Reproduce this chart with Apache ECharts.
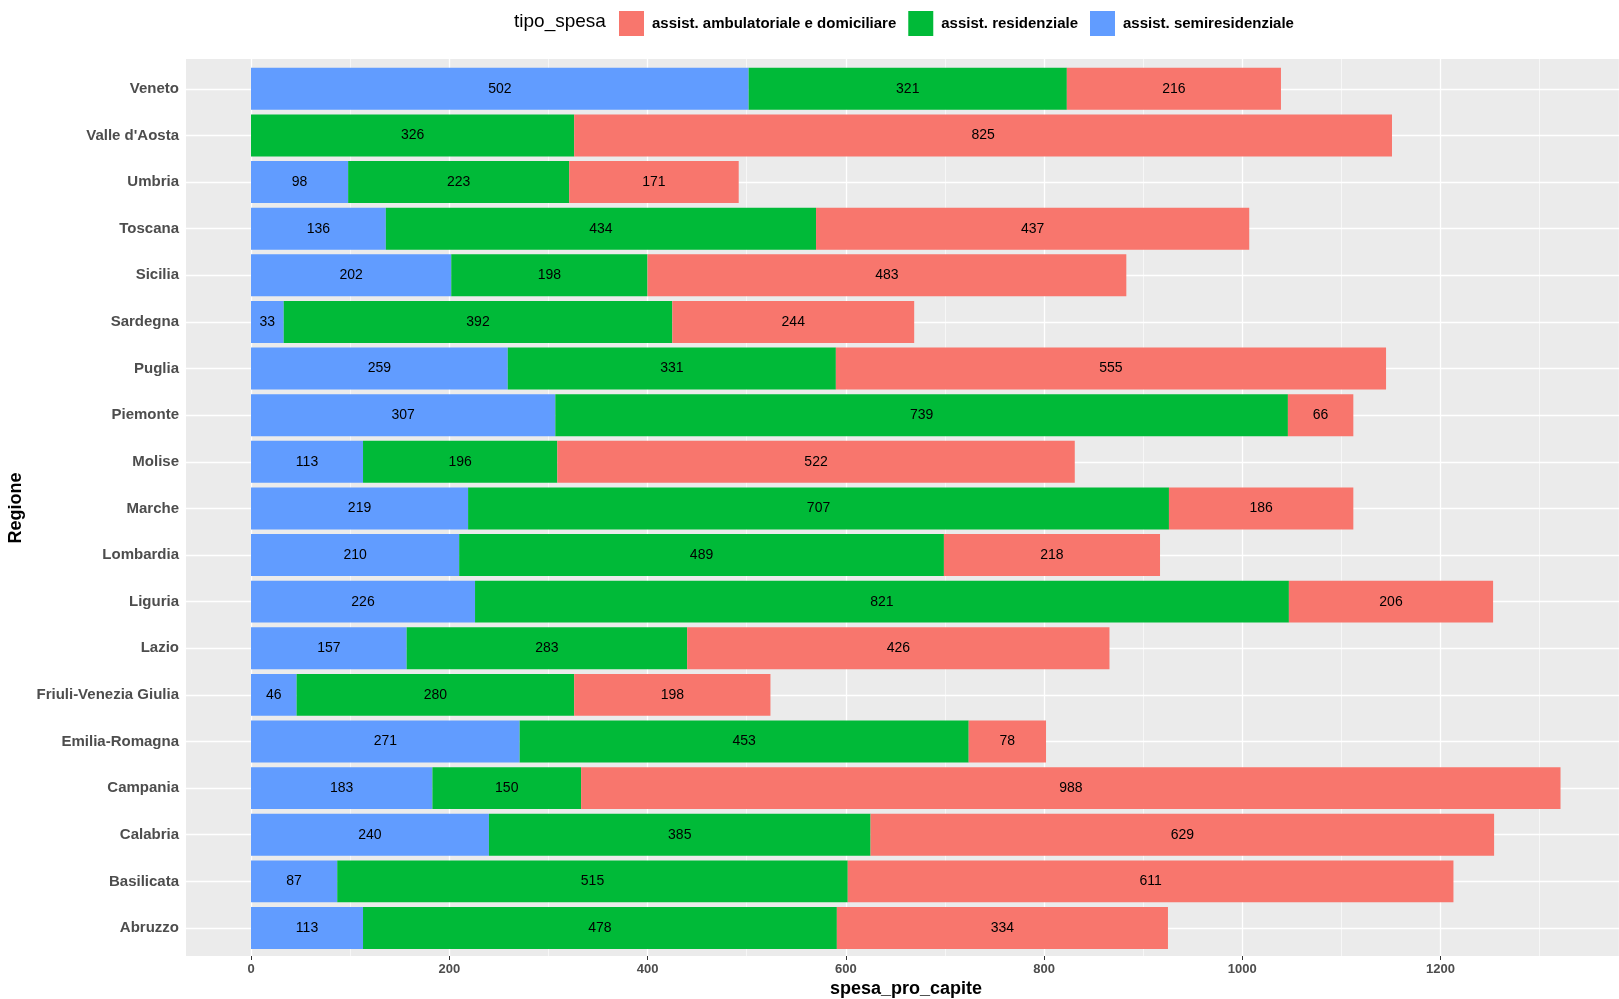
<!DOCTYPE html>
<html><head><meta charset="utf-8">
<script src="https://cdn.jsdelivr.net/npm/echarts@6/dist/echarts.min.js"></script>
<style>html,body{margin:0;padding:0;background:#fff}#c{width:1619px;height:999px}</style>
</head><body><div id="c"></div>
<script>
// ---- data ----
const regioni = ['Veneto', "Valle d'Aosta", 'Umbria', 'Toscana', 'Sicilia', 'Sardegna', 'Puglia', 'Piemonte', 'Molise', 'Marche', 'Lombardia', 'Liguria', 'Lazio', 'Friuli-Venezia Giulia', 'Emilia-Romagna', 'Campania', 'Calabria', 'Basilicata', 'Abruzzo'];
const semiresidenziale = [502, null, 98, 136, 202, 33, 259, 307, 113, 219, 210, 226, 157, 46, 271, 183, 240, 87, 113];
const residenziale = [321, 326, 223, 434, 198, 392, 331, 739, 196, 707, 489, 821, 283, 280, 453, 150, 385, 515, 478];
const ambulatoriale = [216, 825, 171, 437, 483, 244, 555, 66, 522, 186, 218, 206, 426, 198, 78, 988, 629, 611, 334];
const seriesNames = ['assist. ambulatoriale e domiciliare', 'assist. residenziale', 'assist. semiresidenziale'];
const legendTitle = 'tipo_spesa';
const xTitle = 'spesa_pro_capite';
const yTitle = 'Regione';

// ---- style ----
const FONT = "'Liberation Sans', Arial, sans-serif";
const RED = '#F8766D', GREEN = '#00BA38', BLUE = '#619CFF';
const X0 = 251;                  // pixel of value 0
const PANEL_L = 186, PANEL_T = 59, PANEL_B = 956;
const XMAX = 1380;               // value at right edge of the canvas
const PX = (1619 - X0) / XMAX;   // pixels per unit
const xMinBars = -(X0 - PANEL_L) / PX;

const chart = echarts.init(document.getElementById('c'), null, {renderer: 'canvas'});

const labelCfg = {show: true, position: 'inside', color: '#000', fontSize: 14, fontFamily: FONT};

function barSeries(name, data, color, extra) {
  return Object.assign({
    name: name, type: 'bar', stack: 'tot', xAxisIndex: 2, yAxisIndex: 1,
    data: data, barCategoryGap: '10%', z: 2,
    itemStyle: {color: color},
    label: labelCfg,
    emphasis: {disabled: true}
  }, extra || {});
}

chart.setOption({
  animation: false,
  backgroundColor: '#fff',
  textStyle: {fontFamily: FONT},
  graphic: [
    {type: 'rect', z: -10, silent: true,
     shape: {x: PANEL_L, y: PANEL_T, width: 1619 - PANEL_L, height: PANEL_B - PANEL_T},
     style: {fill: '#EBEBEB'}},
    {type: 'text', x: 514, y: 22, silent: true,
     style: {text: legendTitle, fontSize: 19, fontFamily: FONT, fill: '#000', verticalAlign: 'middle', textAlign: 'left'}},
    {type: 'text', x: 906, y: 989, silent: true,
     style: {text: xTitle, fontSize: 18, fontWeight: 'bold', fontFamily: FONT, fill: '#000', verticalAlign: 'middle', textAlign: 'center'}},
    {type: 'text', x: 16, y: 508, rotation: Math.PI / 2, silent: true,
     style: {text: yTitle, fontSize: 18, fontWeight: 'bold', fontFamily: FONT, fill: '#000', verticalAlign: 'middle', textAlign: 'center'}}
  ],
  legend: {
    data: seriesNames,
    left: 614, top: 6,
    itemWidth: 25, itemHeight: 25, itemGap: 12,
    icon: 'rect',
    selectedMode: false,
    textStyle: {fontSize: 15, fontWeight: 'bold', color: '#000', fontFamily: FONT, padding: [0, 0, 0, 3]}
  },
  grid: [
    {left: X0, right: 0, top: PANEL_T, bottom: 999 - PANEL_B, containLabel: false},
    {left: PANEL_L, right: 0, top: 65.5, bottom: 47.7, containLabel: false}
  ],
  xAxis: [
    // major ticks, labels and grid lines
    {type: 'value', gridIndex: 0, min: 0, max: XMAX, interval: 200,
     axisLine: {show: false},
     axisTick: {show: true, length: 4, lineStyle: {color: '#333', width: 1}},
     axisLabel: {fontSize: 13, fontWeight: 'bold', color: '#4D4D4D', margin: 7, fontFamily: FONT,
                 showMaxLabel: false, formatter: v => (v % 200 === 0 ? String(v) : '')},
     splitLine: {show: true, lineStyle: {color: '#FFFFFF', width: 1.3}, z: 1}},
    // minor grid lines
    {type: 'value', gridIndex: 0, min: 0, max: XMAX, interval: 100, position: 'top',
     axisLine: {show: false}, axisTick: {show: false}, axisLabel: {show: false},
     splitLine: {show: true, lineStyle: {color: '#FFFFFF', width: 0.6}}},
    // bars axis (hidden)
    {type: 'value', gridIndex: 1, min: xMinBars, max: XMAX, show: false,
     splitLine: {show: false}}
  ],
  yAxis: [
    {type: 'category', gridIndex: 0, data: regioni, inverse: true, show: false},
    {type: 'category', gridIndex: 1, data: regioni, inverse: true,
     axisLine: {show: false},
     axisTick: {show: true, length: 4, alignWithLabel: true, lineStyle: {color: '#333', width: 1}},
     axisLabel: {fontSize: 15, fontWeight: 'bold', color: '#4D4D4D', margin: 7, fontFamily: FONT},
     splitLine: {show: false}}
  ],
  series: [
    barSeries(seriesNames[2], semiresidenziale, BLUE, {
      markLine: {
        silent: true, z: 1, symbol: 'none', label: {show: false},
        lineStyle: {color: '#FFFFFF', width: 1.3, type: 'solid'},
        emphasis: {disabled: true},
        data: regioni.map(r => ({yAxis: r}))
      }
    }),
    barSeries(seriesNames[1], residenziale, GREEN),
    barSeries(seriesNames[0], ambulatoriale, RED)
  ]
});
</script>
</body></html>
